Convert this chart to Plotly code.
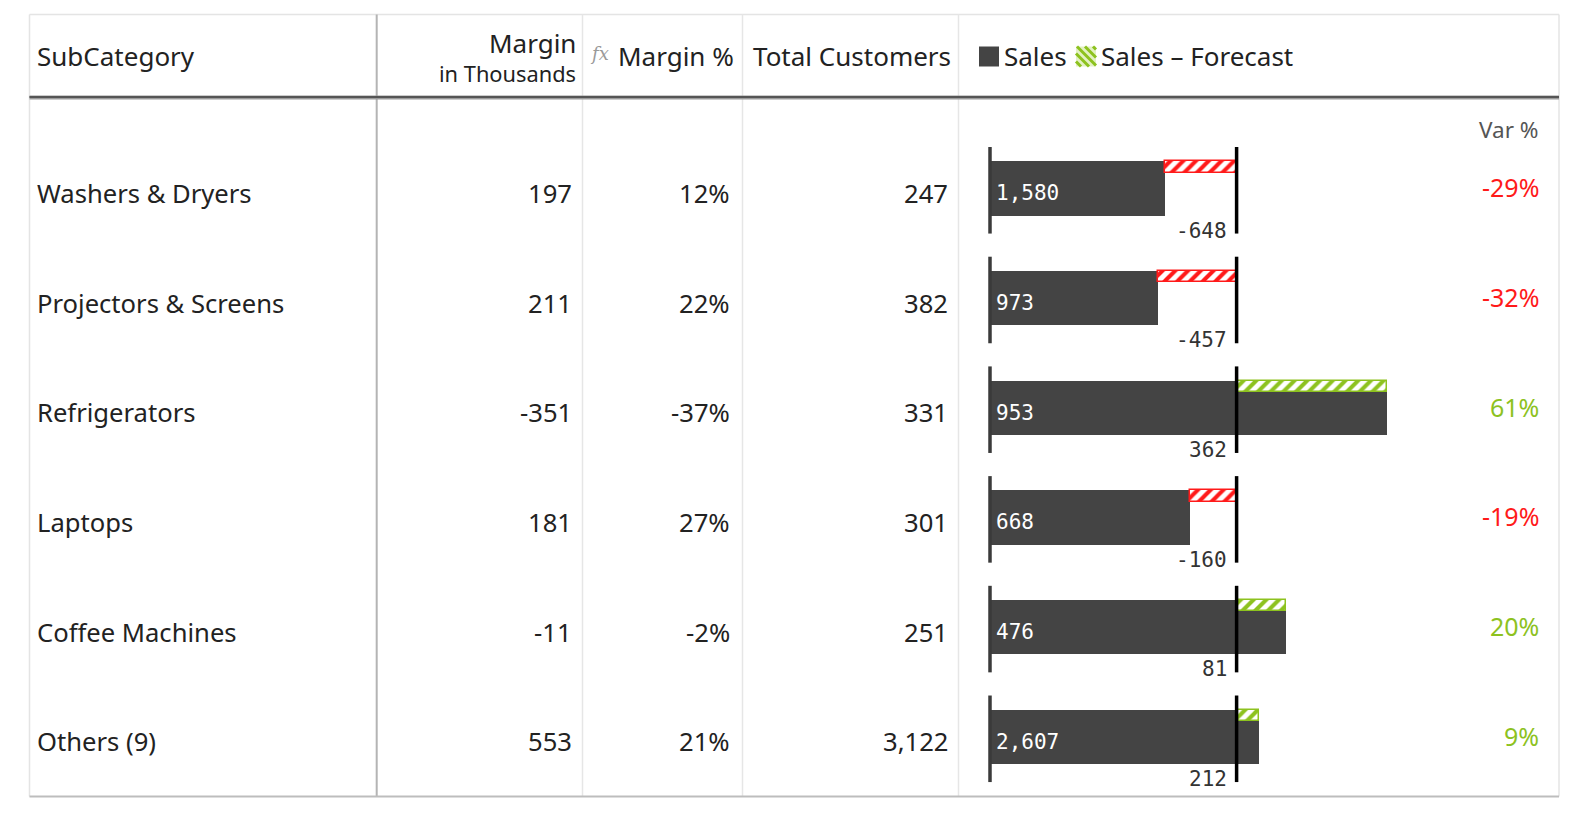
import plotly.graph_objects as go

# ---------------- data ----------------
categories = ["Washers & Dryers", "Projectors & Screens", "Refrigerators",
              "Laptops", "Coffee Machines", "Others (9)"]
margin_k = [197, 211, -351, 181, -11, 553]
margin_pct = [12, 22, -37, 27, -2, 21]
customers = [247, 382, 331, 301, 251, 3122]
sales = [1580, 973, 953, 668, 476, 2607]
variance = [-648, -457, 362, -160, 81, 212]
var_pct = [-29, -32, 61, -19, 20, 9]

# ---------------- style ----------------
W, H = 1579, 819
FONT = "Noto Sans"
MONO = "DejaVu Sans Mono"
DARK = "#444444"
RED = "#FF1A1A"
GREEN = "#8DC21F"
TXT = "#222222"

def PX(x):
    return x / W

def PY(y):
    return 1 - y / H

ROW0, ROWH = 193.3, 109.7          # pixel centre of first row, row pitch
X0, UNIT = 990.0, 246.6            # bar axis origin and px per unit (forecast = 1)
XL, XR = 975.0, 1440.0

idx = list(range(len(categories)))
rel = [1 + v / 100 for v in var_pct]   # sales relative to forecast

fig = go.Figure()

BAR_OFF, BAR_W = -0.2935, 0.496
HATCH_W = 0.105

# sales bars
fig.add_trace(go.Bar(
    orientation="h", y=idx, x=rel, base=0,
    offset=BAR_OFF, width=BAR_W,
    marker=dict(color=DARK, line=dict(width=0)),
    hoverinfo="skip", showlegend=False))

# variance hatch (negative: red, positive: green)
neg_y = [i for i in idx if var_pct[i] < 0]
neg_x = [-var_pct[i] / 100 for i in idx if var_pct[i] < 0]
neg_b = [rel[i] for i in idx if var_pct[i] < 0]
pos_y = [i for i in idx if var_pct[i] >= 0]
pos_x = [var_pct[i] / 100 for i in idx if var_pct[i] >= 0]
pos_b = [1.0 for i in idx if var_pct[i] >= 0]

fig.add_trace(go.Bar(
    orientation="h", y=neg_y, x=neg_x, base=neg_b,
    offset=BAR_OFF, width=HATCH_W,
    marker=dict(color="white", line=dict(color=RED, width=1.5),
                pattern=dict(shape="/", fgcolor=RED, bgcolor="white",
                             size=9, solidity=0.45, fillmode="replace")),
    hoverinfo="skip", showlegend=False))
fig.add_trace(go.Bar(
    orientation="h", y=pos_y, x=pos_x, base=pos_b,
    offset=BAR_OFF, width=HATCH_W,
    marker=dict(color="white", line=dict(color=GREEN, width=1.5),
                pattern=dict(shape="/", fgcolor=GREEN, bgcolor="white",
                             size=9, solidity=0.45, fillmode="replace")),
    hoverinfo="skip", showlegend=False))

# axis line (x=0) and forecast reference line (x=1) per row
LT, LB = -0.422, 0.367
ax_x, ax_y, ref_x, ref_y = [], [], [], []
for i in idx:
    ax_x += [0, 0, None]
    ax_y += [i + LT, i + LB, None]
    ref_x += [1, 1, None]
    ref_y += [i + LT, i + LB, None]
fig.add_trace(go.Scatter(x=ax_x, y=ax_y, mode="lines",
                         line=dict(color="#3a3a3a", width=3.5),
                         hoverinfo="skip", showlegend=False))
fig.add_trace(go.Scatter(x=ref_x, y=ref_y, mode="lines",
                         line=dict(color="black", width=3.5),
                         hoverinfo="skip", showlegend=False))

ann = []
# bar labels
for i in idx:
    ann.append(dict(x=0, y=i + 0.0, xref="x", yref="y", xanchor="left",
                    yanchor="middle", xshift=4, text=f"{sales[i]:,}",
                    showarrow=False, font=dict(family=MONO, size=21, color="white")))
    ann.append(dict(x=1, y=i + 0.34, xref="x", yref="y", xanchor="right",
                    yanchor="middle", xshift=-8, text=f"{variance[i]:,}",
                    showarrow=False, font=dict(family=MONO, size=21, color="#333333")))
    ann.append(dict(x=PX(1541), y=i - 0.055, xref="paper", yref="y", xanchor="right",
                    yanchor="middle", text=f"{var_pct[i]}%", showarrow=False,
                    font=dict(family=FONT, size=25, color=RED if var_pct[i] < 0 else GREEN)))

# table cells
CELL = 25.6
for i in idx:
    yy = PY(ROW0 + ROWH * i)
    ann.append(dict(x=PX(35), y=yy, xref="paper", yref="paper", xanchor="left",
                    yanchor="middle", text=categories[i], showarrow=False,
                    font=dict(family=FONT, size=CELL, color=TXT)))
    ann.append(dict(x=PX(574), y=yy, xref="paper", yref="paper", xanchor="right",
                    yanchor="middle", text=f"{margin_k[i]:,}", showarrow=False,
                    font=dict(family=FONT, size=CELL, color=TXT)))
    ann.append(dict(x=PX(732), y=yy, xref="paper", yref="paper", xanchor="right",
                    yanchor="middle", text=f"{margin_pct[i]}%", showarrow=False,
                    font=dict(family=FONT, size=CELL, color=TXT)))
    ann.append(dict(x=PX(950), y=yy, xref="paper", yref="paper", xanchor="right",
                    yanchor="middle", text=f"{customers[i]:,}", showarrow=False,
                    font=dict(family=FONT, size=CELL, color=TXT)))

# headers
def head(x, y, text, anchor, size=26, color=TXT, family=FONT):
    ann.append(dict(x=PX(x), y=PY(y), xref="paper", yref="paper", xanchor=anchor,
                    yanchor="middle", text=text, showarrow=False,
                    font=dict(family=family, size=size, color=color)))

head(35, 56.5, "SubCategory", "left")
head(578, 42.5, "Margin", "right")
head(578, 73.5, "in Thousands", "right", size=21.8)
head(588, 54, "<i>fx</i>", "left", size=18, color="#9a9a9a", family="DejaVu Serif")
head(736, 56.5, "Margin %", "right")
head(953, 56.5, "Total Customers", "right")
head(1002, 56.5, "Sales", "left")
head(1099, 56.5, "Sales – Forecast", "left")
head(1541, 129, "Var %", "right", size=22.5, color="#555555")

# table lines
shapes = []
def line(x0, y0, x1, y1, color, width):
    shapes.append(dict(type="line", xref="paper", yref="paper",
                       x0=PX(x0), y0=PY(y0), x1=PX(x1), y1=PY(y1),
                       line=dict(color=color, width=width)))

L, R, T, B = 29.5, 1559, 14.5, 796.5
line(L, T, R, T, "#e4e4e4", 1.5)
line(L, T, L, B, "#e4e4e4", 1.5)
line(R, T, R, B, "#e4e4e4", 1.5)
for xs in (582.5, 742.5, 958.5):
    line(xs, T, xs, B, "#e6e6e6", 1.5)
line(376.7, T, 376.7, B, "#b4b4b4", 2)
line(L, 97.5, R, 97.5, "#9a9a9a", 4)
line(L, 97.0, R, 97.0, "#555555", 2)
line(L, B, R, B, "#bdbdbd", 2)

# legend swatches
shapes.append(dict(type="rect", xref="paper", yref="paper",
                   x0=PX(979), x1=PX(999), y0=PY(66.5), y1=PY(46.5),
                   fillcolor=DARK, line=dict(width=0)))
sx0, sx1, sy0, sy1 = 1076, 1096, 46.5, 66.5
shapes.append(dict(type="rect", xref="paper", yref="paper",
                   x0=PX(sx0), x1=PX(sx1), y0=PY(sy1), y1=PY(sy0),
                   fillcolor="#e3f1c4", line=dict(width=0)))
size = sx1 - sx0
for d in range(5, 2 * size, 8):
    a_x = max(0, d - size); a_y = d - a_x
    b_y = max(0, d - size); b_x = d - b_y
    line(sx0 + a_x, sy1 - a_y, sx0 + b_x, sy1 - b_y, GREEN, 3)

y_lo = (0 - ROW0) / ROWH
y_hi = (H - ROW0) / ROWH

fig.update_layout(
    width=W, height=H, autosize=False,
    margin=dict(l=0, r=0, t=0, b=0),
    paper_bgcolor="white", plot_bgcolor="rgba(0,0,0,0)",
    barmode="overlay", bargap=0,
    xaxis=dict(domain=[PX(XL), PX(XR)], range=[(XL - X0) / UNIT, (XR - X0) / UNIT],
               visible=False, fixedrange=True),
    yaxis=dict(domain=[0, 1], range=[y_hi, y_lo], visible=False, fixedrange=True),
    annotations=ann, shapes=shapes,
)

fig.write_html("out.html", config={"displayModeBar": False},
               post_script="document.body.style.margin='0';document.body.style.overflow='hidden';")
